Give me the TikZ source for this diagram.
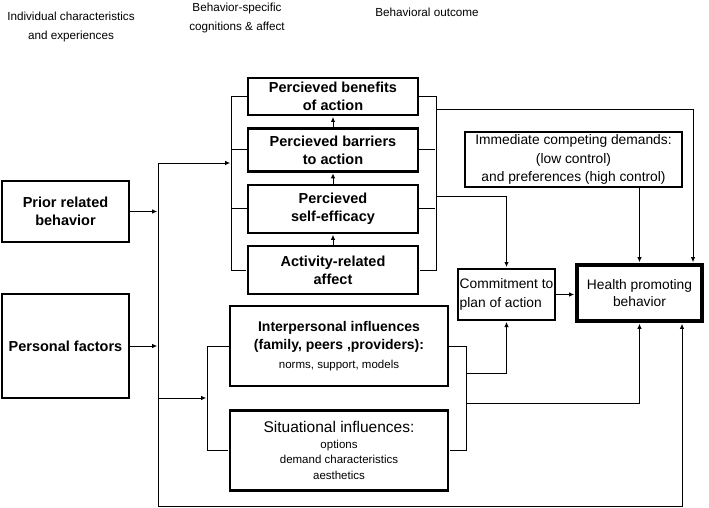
\documentclass[tikz,border=0pt]{standalone}
\usepackage{fontspec}
\setmainfont{Liberation Sans}
\usetikzlibrary{positioning,arrows.meta}

\begin{document}
\begin{tikzpicture}[x=1pt,y=-1pt,>={Latex[length=5pt,width=4.5pt]},shorten >=0.8pt,
                    line width=0.9pt,node distance=11pt,
                    box/.style={draw,line width=2.4pt,align=center,inner sep=1pt,
                      font=\fontsize{14.5}{18}\selectfont\bfseries},
                    plain box/.style={box,font=\fontsize{13.8}{18.5}\selectfont},
                    small/.style={font=\fontsize{11.5}{14}\selectfont\mdseries},
                    head/.style={align=center,font=\fontsize{11.7}{19}\selectfont}]

  \useasboundingbox (0,0) rectangle (709,508);

  % column titles
  \node[head] (h1) at (71,27) {Individual characteristics\\and experiences};
  \node[head] (h2) at (237,18) {Behavior-specific\\cognitions \& affect};
  \node[head] (h3) at (427,12) {Behavioral outcome};

  % individual characteristics
  \node[box,minimum width=127pt,minimum height=61pt] (prior) at (65.5,211.5) {Prior related\\behavior};
  \node[box,minimum width=127pt,minimum height=104pt] (personal) at (65.5,346) {Personal factors};

  % cognitions and affect
  \node[box,minimum width=170pt,minimum height=37pt] (benefits) at (333,96.5) {Percieved benefits\\of action};
  \node[box,minimum width=170pt,minimum height=43pt,below=of benefits] (barriers) {Percieved barriers\\to action};
  \node[box,minimum width=170pt,minimum height=48pt,below=of barriers] (selfeff) {Percieved\\self-efficacy};
  \node[box,minimum width=170pt,minimum height=48pt,below=of selfeff] (affect) {Activity-related\\affect};
  \node[box,minimum width=218pt,minimum height=80pt,font=\fontsize{14}{18.5}\selectfont\bfseries] (inter) at (339,346)
    {Interpersonal influences\\(family, peers ,providers):\\{\fontsize{11.5}{14}\selectfont\mdseries norms, support, models}};
  \node[box,minimum width=218pt,minimum height=80pt,below=22pt of inter,font=\fontsize{15.5}{15.5}\selectfont] (situ)
    {Situational influences:\\{\fontsize{11.5}{14}\selectfont options}\\{\fontsize{11.5}{14}\selectfont demand characteristics}\\{\fontsize{11.5}{14}\selectfont aesthetics}};

  % outcome
  \node[plain box,minimum width=217pt,minimum height=55pt] (demands) at (573.5,159.5) {Immediate competing demands:\\(low control)\\and preferences (high control)};
  \node[plain box,minimum width=97pt,minimum height=51pt,inner sep=0pt,align=left] (commit) at (506.5,294.5) {Commitment to\\plan of action};
  \node[plain box,minimum width=125pt,minimum height=56pt,line width=4pt,font=\fontsize{13.8}{17}\selectfont] (health) at (639.5,293) {Health promoting\\behavior};

  % bus lines
  \coordinate (top) at (158,163);
  \coordinate (bot) at (158,506);
  \coordinate (cin) at (231,0);
  \coordinate (cout) at (436,0);
  \coordinate (iin) at (207,398);
  \coordinate (iout) at (466,373);

  \draw[->] (prior.east) -- (prior.east -| top);
  \draw[->] (personal.east) -- (personal.east -| top);
  \draw[->] (bot) -- (top) -- (top -| cin);
  \draw[->] (bot) -| ([xshift=42.5pt]health.south);

  \draw (benefits.west) -- (benefits.west -| cin) -- (affect.west -| cin) -- (affect.west);
  \draw (barriers.west) -- (barriers.west -| cin);
  \draw (selfeff.west) -- (selfeff.west -| cin);
  \draw[->] (affect) -- (selfeff);
  \draw[->] (selfeff) -- (barriers);
  \draw[->] (barriers) -- (benefits);

  \draw (benefits.east) -- (benefits.east -| cout) -- (affect.east -| cout) -- (affect.east);
  \draw (barriers.east) -- (barriers.east -| cout);
  \draw (selfeff.east) -- (selfeff.east -| cout);
  \draw[->] (benefits.east -| cout) ++(0,12.5) -| ([xshift=53.5pt]health.north);
  \draw[->] (selfeff.east -| cout) ++(0,-12) -| (commit.north);

  \draw[->] (demands.south -| health.north) -- (health.north);
  \draw[->] (commit.east) -- (commit.east -| health.west);

  \draw[->] (iin -| top) -- (iin);
  \draw (inter.west) -- (inter.west -| iin) -- (situ.west -| iin) -- (situ.west);
  \draw (inter.east) -- (inter.east -| iout) -- (situ.east -| iout) -- (situ.east);
  \draw[->] (iout) -| (commit.south);
  \draw[->] (iout) ++(0,30) -| (health.south);
\end{tikzpicture}
\end{document}
